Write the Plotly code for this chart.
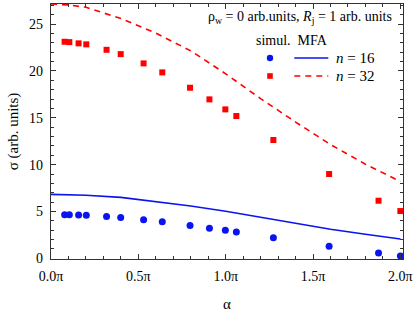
import plotly.graph_objects as go

# alpha in units of pi
alpha_sim = [0.078, 0.105, 0.158, 0.202, 0.318, 0.399, 0.530, 0.637, 0.796, 0.907,
             0.998, 1.061, 1.273, 1.592, 1.875, 2.0]
sim_n16 = [4.65, 4.65, 4.62, 4.60, 4.48, 4.37, 4.12, 3.90, 3.50, 3.20,
           2.99, 2.80, 2.20, 1.30, 0.56, 0.25]
sim_n32 = [23.12, 23.08, 22.95, 22.84, 22.26, 21.80, 20.81, 19.85, 18.21, 16.97,
           15.90, 15.19, 12.63, 9.00, 6.15, 5.05]

alpha_mfa = [0.0, 0.1, 0.2, 0.4, 0.6, 0.8, 1.0, 1.2, 1.4, 1.6, 1.8, 2.0]
mfa_n16 = [6.83, 6.81, 6.74, 6.51, 6.07, 5.58, 5.02, 4.36, 3.72, 3.10, 2.57, 2.06]
mfa_n32 = [27.15, 27.05, 26.80, 25.60, 24.05, 22.15, 19.70, 17.05, 14.55, 12.15, 10.05, 8.20]

x_tickvals = [0.0, 0.5, 1.0, 1.5, 2.0]
x_ticktext = ["0.0π", "0.5π", "1.0π", "1.5π", "2.0π"]
y_tickvals = [0, 5, 10, 15, 20, 25]

BLUE = "#0a14f0"
RED = "#ff0000"
FONT = "Liberation Serif"

fig = go.Figure()
fig.add_trace(go.Scatter(x=alpha_mfa, y=mfa_n16, mode="lines",
                         line=dict(color=BLUE, width=1.6), showlegend=False))
fig.add_trace(go.Scatter(x=alpha_mfa, y=mfa_n32, mode="lines",
                         line=dict(color=RED, width=1.6, dash="6px,5px"), showlegend=False))
fig.add_trace(go.Scatter(x=alpha_sim, y=sim_n16, mode="markers",
                         marker=dict(color=BLUE, size=7, symbol="circle"), showlegend=False))
fig.add_trace(go.Scatter(x=alpha_sim, y=sim_n32, mode="markers",
                         marker=dict(color=RED, size=6, symbol="square"), showlegend=False))

W, H = 415, 312
L, R, T, B = 51, 12, 4, 53
pw, ph = W - L - R, H - T - B


def px(x):
    return (x - L) / pw


def py(y):
    return (H - B - y) / ph


shapes = []
annotations = []
tf = dict(family=FONT, size=14, color="black")
annotations.append(dict(xref="paper", yref="paper", x=px(300), y=py(17), showarrow=False,
                        text="ρ<sub>w</sub> = 0 arb.units, <i>R</i><sub>j</sub> = 1 arb. units",
                        font=tf, xanchor="center", yanchor="middle"))
annotations.append(dict(xref="paper", yref="paper", x=px(291.5), y=py(40), showarrow=False,
                        text="simul.  MFA", font=tf, xanchor="center", yanchor="middle"))
for yy, col, dash, sym, lab in [(58, BLUE, "solid", "circle", "<i>n</i> = 16"),
                                (76, RED, "6px,5px", "square", "<i>n</i> = 32")]:
    r = 3.2 if sym == "circle" else 2.8
    shapes.append(dict(type="circle" if sym == "circle" else "rect", xref="paper", yref="paper",
                       x0=px(270 - r), x1=px(270 + r), y0=py(yy + r), y1=py(yy - r),
                       fillcolor=col, line=dict(width=0)))
    shapes.append(dict(type="line", xref="paper", yref="paper", x0=px(294.3), x1=px(328.3),
                       y0=py(yy), y1=py(yy), line=dict(color=col, width=1.6, dash=dash)))
    annotations.append(dict(xref="paper", yref="paper", x=px(334), y=py(yy), showarrow=False,
                            text=lab, font=dict(family=FONT, size=15, color="black"),
                            xanchor="left", yanchor="middle"))

axis_common = dict(showline=True, mirror="allticks", linecolor="#333", linewidth=1.2,
                   ticks="inside", ticklen=5, tickwidth=1, tickcolor="#333",
                   showgrid=False, zeroline=False, automargin=False,
                   tickfont=dict(family=FONT, size=14, color="black"))

fig.update_layout(
    width=W, height=H, margin=dict(l=L, r=R, t=T, b=B, autoexpand=False),
    plot_bgcolor="white", paper_bgcolor="white",
    font=dict(family=FONT),
    shapes=shapes, annotations=annotations,
    xaxis=dict(range=[0, 2.015], tickvals=x_tickvals, ticktext=x_ticktext,
               ticklabelstandoff=4,
               minor=dict(dtick=0.1, tick0=0, ticks="inside", ticklen=3, tickcolor="#333"),
               title=dict(text="α", font=dict(family=FONT, size=15, color="black"), standoff=22),
               **axis_common),
    yaxis=dict(range=[-0.07, 27.15], tickvals=y_tickvals,
               ticklabelstandoff=4,
               minor=dict(dtick=1, tick0=0, ticks="inside", ticklen=3, tickcolor="#333"),
               title=dict(text="σ (arb. units)", font=dict(family=FONT, size=15, color="black"),
                          standoff=6),
               **axis_common),
)

fig.write_html("out.html", config={"displayModeBar": False},
               post_script="document.body.style.margin='0';document.body.style.overflow='hidden';")
